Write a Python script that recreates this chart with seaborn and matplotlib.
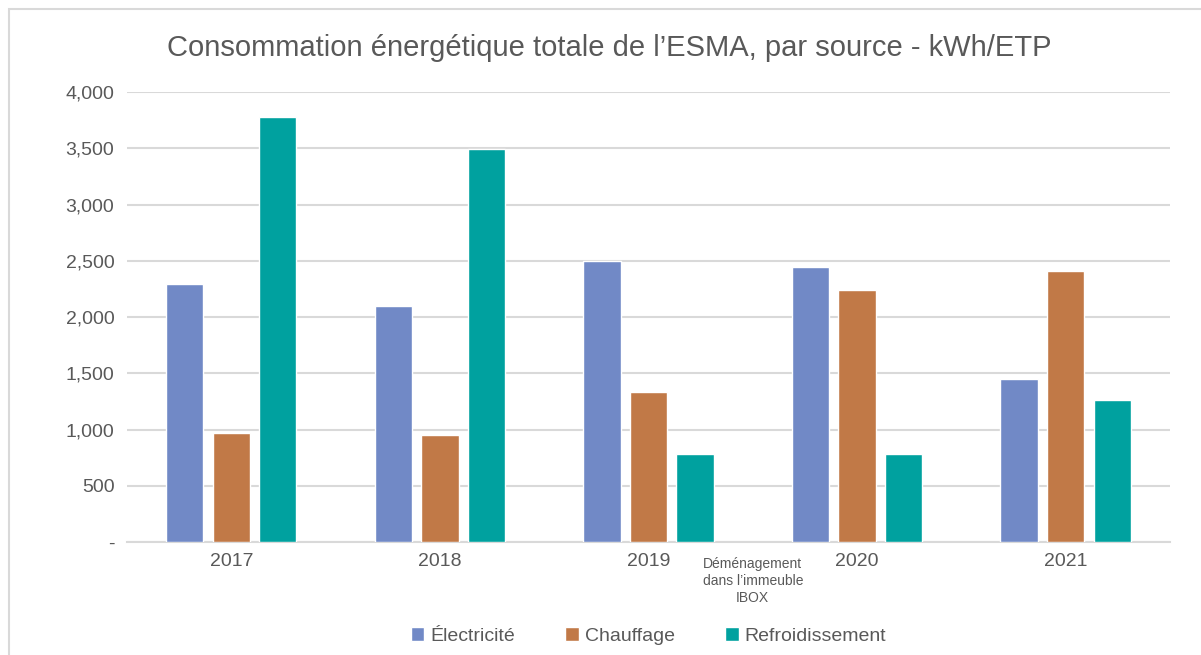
import pandas as pd
import matplotlib.pyplot as plt
import matplotlib.ticker as mticker
from matplotlib.patches import Rectangle
import seaborn as sns

# Data
years = ["2017", "2018", "2019", "2020", "2021"]
electricite = [2290, 2100, 2495, 2445, 1445]
chauffage = [965, 955, 1335, 2240, 2410]
refroidissement = [3780, 3490, 782, 785, 1258]

series = ["Électricité", "Chauffage", "Refroidissement"]
colors = ["#7189C6", "#C17947", "#00A19F"]

df = pd.DataFrame({
    "Année": years * 3,
    "Source": [s for s in series for _ in years],
    "kWh": electricite + chauffage + refroidissement,
})

sns.set_style("white")
plt.rcParams["font.family"] = ["Liberation Sans", "DejaVu Sans"]
text_col = "#595959"

fig = plt.figure(figsize=(12.01, 6.55), dpi=100)
ax = fig.add_axes([0.1057, 0.1725, 0.8685, 0.687])

sns.barplot(data=df, x="Année", y="kWh", hue="Source", palette=colors,
            saturation=1, width=0.67, gap=0.2, ax=ax, legend=True, zorder=3)

# Axes styling
ax.set_ylim(0, 4000)
ax.set_xlim(-0.5, 4.5)
ax.yaxis.set_major_locator(mticker.MultipleLocator(500))
ax.yaxis.set_major_formatter(
    mticker.FuncFormatter(lambda v, p: "-" if v == 0 else f"{int(v):,}"))
ax.grid(axis="y", color="#D9D9D9", linewidth=1.5, zorder=0)
for s in ["top", "right", "left"]:
    ax.spines[s].set_visible(False)
ax.spines["bottom"].set_color("#D9D9D9")
ax.spines["bottom"].set_linewidth(1.5)
ax.tick_params(axis="both", length=0, labelsize=14, labelcolor=text_col)
ax.tick_params(axis="y", pad=9)
ax.tick_params(axis="x", pad=8)
ax.set_xlabel("")
ax.set_ylabel("")

# Title
fig.text(0.507, 0.927, "Consommation énergétique totale de l’ESMA, par source - kWh/ETP",
         ha="center", va="center", fontsize=21, color=text_col)

# Annotation between 2019 and 2020
ax.text(2.5, -0.033, "Déménagement\ndans l’immeuble\nIBOX", transform=ax.get_xaxis_transform(),
        ha="center", va="top", fontsize=10, color=text_col, linespacing=1.3)

# Legend
h, l = ax.get_legend_handles_labels()
ax.legend_.remove()
fig.legend(h, l, loc="center", bbox_to_anchor=(0.54, 0.029), ncol=3, frameon=False,
           fontsize=14, labelcolor=text_col, handlelength=0.7, handleheight=0.7,
           handletextpad=0.3, columnspacing=2.6)

# Outer chart border
fig.patches.append(Rectangle((9 / 1201, -0.1), 1.2, 1 - 9 / 655 + 0.1,
                             transform=fig.transFigure, fill=False,
                             edgecolor="#D9D9D9", linewidth=1.5))

fig.savefig("out.png", dpi=100)
